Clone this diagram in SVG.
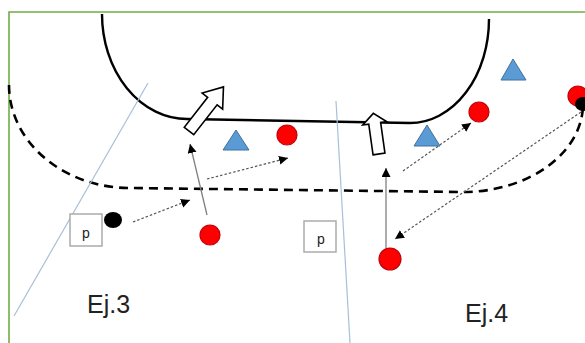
<svg xmlns="http://www.w3.org/2000/svg" width="585" height="343" viewBox="0 0 585 343">
<defs>
<marker id="ah" markerUnits="userSpaceOnUse" markerWidth="10" markerHeight="10" refX="9" refY="4.5" orient="auto">
<path d="M0,0 L9,4.5 L0,9 z" fill="#000"/>
</marker>
<style>
.court{fill:none;stroke:#000;stroke-width:2.4}
.zone{fill:none;stroke:#000;stroke-width:2.6;stroke-dasharray:9,6}
.guide{fill:none;stroke:#a9bfd8;stroke-width:1.2}
.pass{fill:none;stroke:#555;stroke-width:1.2;stroke-dasharray:2.5,2;marker-end:url(#ah)}
.run{fill:none;stroke:#808080;stroke-width:1.3;marker-end:url(#ah)}
.att{fill:#f00;stroke:#c0000a;stroke-width:1.2}
.def{fill:#5b9bd5;stroke:#41719c;stroke-width:1}
.ball{fill:#000}
.big{fill:#fff;stroke:#000;stroke-width:1.6}
.box{fill:#fff;stroke:#a6a6a6;stroke-width:1.4}
.lbl{font-family:"Liberation Sans",Arial,sans-serif;fill:#222}
</style>
</defs>
<rect width="585" height="343" fill="#fff"/>
<path d="M9,343 V12 H585" fill="none" stroke="#70ad47" stroke-width="1.6"/>
<g id="court">
<path class="court" d="M102,14 A85,105 0 0 0 187,119 L410,123 A79,104 0 0 0 489,19"/>
<path class="zone" d="M9,85 A121,103 0 0 0 130,188 L463,192 A120,88 0 0 0 583,104"/>
<line class="guide" x1="148" y1="83" x2="14" y2="316"/>
<line class="guide" x1="336" y1="101" x2="350" y2="343"/>
</g>
<g id="connectors">
<line class="run" x1="207" y1="215" x2="190" y2="144"/>
<line class="run" x1="386" y1="248" x2="386" y2="168"/>
<line class="pass" x1="133" y1="222" x2="190" y2="200"/>
<line class="pass" x1="207" y1="179" x2="288" y2="158"/>
<line class="pass" x1="403" y1="171" x2="471" y2="123"/>
<line class="pass" x1="581" y1="112" x2="395" y2="239"/>
</g>
<g id="bigarrow1"><polygon class="big" transform="translate(189,131) rotate(38)" points="-6,0 6,0 6,-38 13,-38 0,-56 -13,-38 -6,-38"/></g>
<g id="bigarrow2"><polygon class="big" transform="translate(379,154) rotate(-8)" points="-6,0 6,0 6,-31 12,-31 0,-41 -12,-31 -6,-31"/></g>
<g id="def1"><polygon class="def" points="236,130 249,150 223,150"/></g>
<g id="def2"><polygon class="def" points="427,125 440,146 414,146"/></g>
<g id="def3"><polygon class="def" points="513,59 526,80 501,80"/></g>
<g id="att1"><circle class="att" cx="287" cy="135" r="10"/></g>
<g id="att2"><circle class="att" cx="479" cy="112" r="10"/></g>
<g id="att3"><circle class="att" cx="578" cy="96" r="10"/></g>
<g id="att4"><circle class="att" cx="210" cy="235" r="10"/></g>
<g id="att5"><circle class="att" cx="390" cy="259" r="11"/></g>
<g id="ball1"><ellipse class="ball" cx="113" cy="220" rx="9" ry="8"/></g>
<g id="ball2"><ellipse class="ball" cx="583" cy="104" rx="8" ry="7"/></g>
<g id="p1"><rect class="box" x="70" y="214" width="32" height="32"/><text class="lbl" x="86" y="238" font-size="14" text-anchor="middle">p</text></g>
<g id="p2"><rect class="box" x="304" y="221" width="32" height="31"/><text class="lbl" x="321" y="244" font-size="14" text-anchor="middle">p</text></g>
<g id="ej3"><text class="lbl" x="87" y="313" font-size="25">Ej.3</text></g>
<g id="ej4"><text class="lbl" x="465" y="322" font-size="25">Ej.4</text></g>
</svg>
